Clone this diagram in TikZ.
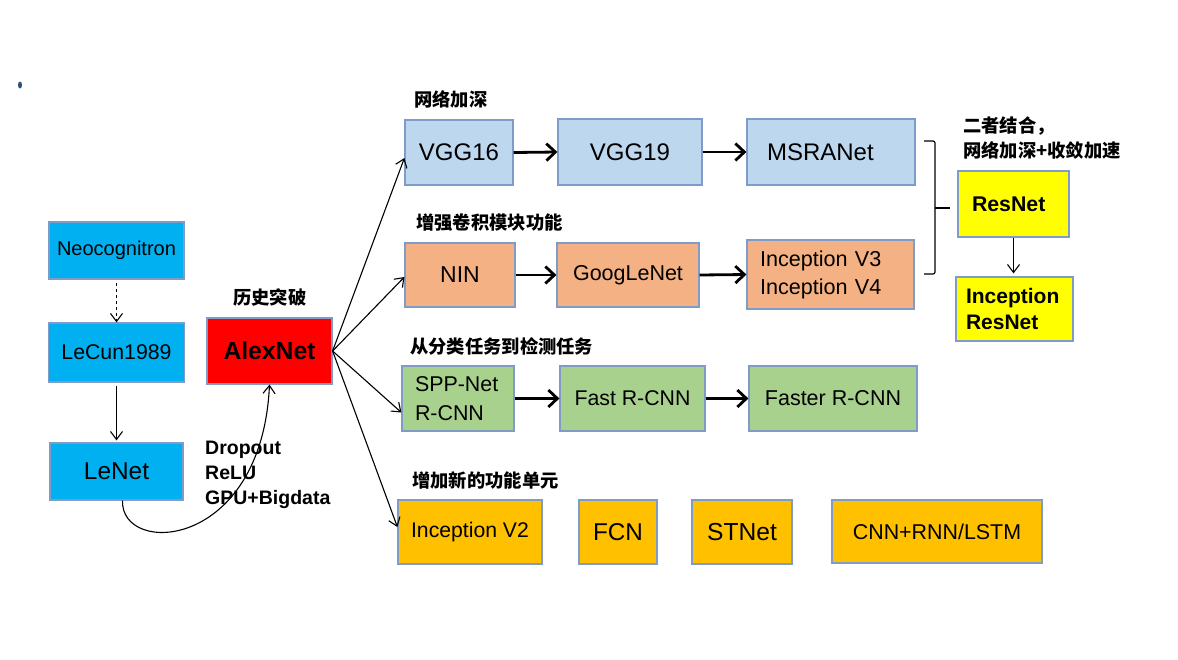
\documentclass[tikz,border=0pt]{standalone}
\usepackage{fontspec}
\setmainfont{Liberation Sans}
\newfontfamily\cjk{Noto Sans CJK SC}
\usepackage{xcolor}
\definecolor{NetCyan}{HTML}{00B0F0}
\definecolor{NetBlue}{HTML}{BDD7EE}
\definecolor{NetOrange}{HTML}{F4B183}
\definecolor{NetGreen}{HTML}{A9D18E}
\definecolor{NetGold}{HTML}{FFC000}
\definecolor{NetYellow}{HTML}{FFFF00}
\definecolor{NetRed}{HTML}{FF0000}
\definecolor{NetEdge}{HTML}{7F9CC8}
\definecolor{DotBlue}{HTML}{2F4F7F}
\usetikzlibrary{arrows.meta}
\tikzset{>=latex}
\tikzstyle{netbox}=[draw=NetEdge, line width=1.2, inner sep=0, align=center]
\tikzstyle{bigarrow}=[-{Straight Barb[length=9pt,width=17pt]}, line width=2.8]
\tikzstyle{thinarrow}=[-{Straight Barb[length=8pt,width=12pt]}, line width=1.1]
\tikzstyle{cntext}=[anchor=west, inner sep=0, font=\cjk\bfseries\fontsize{18.3}{25}\selectfont]

\begin{document}
\begin{tikzpicture}[x=1pt, y=-1pt]
		% Page
		\fill[white] (0,0) rectangle (1178,659);
		\fill[DotBlue] (20,85) ellipse [x radius=2, y radius=3.5];
		
		% Early networks
		\node[netbox, fill=NetCyan, minimum width=135, minimum height=57, font=\fontsize{20}{24}\selectfont] (neo) at (116.5,250.5) {Neocognitron};
		\node[netbox, fill=NetCyan, minimum width=136, minimum height=59, font=\fontsize{21.3}{26}\selectfont] (lecun) at (116.5,352.5) {LeCun1989};
		\node[netbox, fill=NetCyan, minimum width=133, minimum height=57, font=\fontsize{24.4}{28}\selectfont] (lenet) at (116.5,471.5) {LeNet};
		\node[netbox, fill=NetRed, minimum width=125, minimum height=66, font=\bfseries\fontsize{24.7}{28}\selectfont] (alex) at (269.5,351) {AlexNet};
		
		% Deeper
		\node[netbox, fill=NetBlue, minimum width=108, minimum height=65, font=\fontsize{24}{28}\selectfont] (vgg16) at (459,152.5) {VGG16};
		\node[netbox, fill=NetBlue, minimum width=144, minimum height=66, font=\fontsize{24}{28}\selectfont] (vgg19) at (630,152) {VGG19};
		\node[netbox, fill=NetBlue, minimum width=168, minimum height=66, text width=128, align=left, font=\fontsize{24}{28}\selectfont] (msra) at (831,152) {MSRANet};
		
		% Convolution modules
		\node[netbox, fill=NetOrange, minimum width=110, minimum height=64, font=\fontsize{23}{28}\selectfont] (nin) at (460,275) {NIN};
		\node[netbox, fill=NetOrange, minimum width=142, minimum height=64, font=\fontsize{21.5}{26}\selectfont] (goog) at (628,275) {GoogLeNet};
		\node[netbox, fill=NetOrange, minimum width=167, minimum height=69, text width=141, align=left, font=\fontsize{21.6}{28}\selectfont] (incv3) at (830.5,274.5) {Inception V3\\Inception V4};
		
		% Detection
		\node[netbox, fill=NetGreen, minimum width=112, minimum height=65, text width=86, align=left, font=\fontsize{21.4}{29}\selectfont] (spp) at (458,398.5) {SPP-Net\\R-CNN};
		\node[netbox, fill=NetGreen, minimum width=145, minimum height=65, font=\fontsize{21.3}{26}\selectfont] (fast) at (632.5,398.5) {Fast R-CNN};
		\node[netbox, fill=NetGreen, minimum width=168, minimum height=65, font=\fontsize{21.5}{26}\selectfont] (faster) at (833,398.5) {Faster R-CNN};
		
		% New units
		\node[netbox, fill=NetGold, minimum width=144, minimum height=64, font=\fontsize{21.2}{26}\selectfont] (incv2) at (470,532) {Inception V2};
		\node[netbox, fill=NetGold, minimum width=78, minimum height=64, font=\fontsize{24.3}{28}\selectfont] (fcn) at (618,532) {FCN};
		\node[netbox, fill=NetGold, minimum width=100, minimum height=64, font=\fontsize{24.6}{28}\selectfont] (stnet) at (742,532) {STNet};
		\node[netbox, fill=NetGold, minimum width=210, minimum height=63, font=\fontsize{21.4}{26}\selectfont] (cnnrnn) at (937,531.5) {CNN+RNN/LSTM};
		
		% Residual
		\node[netbox, fill=NetYellow, minimum width=111, minimum height=66, text width=83, align=left, font=\bfseries\fontsize{21.3}{26}\selectfont] (resnet) at (1013.5,204) {ResNet};
		\node[netbox, fill=NetYellow, minimum width=117, minimum height=64, text width=97, align=left, font=\bfseries\fontsize{21}{26}\selectfont] (incres) at (1014.5,309) {Inception\\ResNet};
		
		% Labels
		\node[cntext] (lbalex) at (233,298) {历史突破};
		\node[cntext] (lbdeep) at (414,99) {网络加深};
		\node[cntext] (lbconv) at (416,223) {增强卷积模块功能};
		\node[cntext] (lbdet) at (410,346) {从分类任务到检测任务};
		\node[cntext] (lbnew) at (412,480) {增加新的功能单元};
		\node[cntext, align=left] (lbres) at (963,138.5) {二者结合，\\网络加深+收敛加速};
		\node[anchor=west, align=left, inner sep=0, font=\bfseries\fontsize{19.5}{25}\selectfont] (tricks) at (205,475) {Dropout\\ReLU\\GPU+Bigdata};
		
		% Arrows
		\draw[thinarrow, dashed, shorten <=3] (neo.south) -- (lecun.north);
		\draw[thinarrow, shorten <=3, shorten >=2] (lecun.south) -- (lenet.north);
		\draw[thinarrow] ([xshift=6]lenet.south) .. controls +(-2,56) and +(-8,166) .. (alex.south);
		\draw[thinarrow] (alex.east) -- ([yshift=-5.5]vgg16.west);
		\draw[thinarrow] (alex.east) -- ([yshift=-2]nin.west);
		\draw[thinarrow] (alex.east) -- ([yshift=-14]spp.west);
		\draw[thinarrow] (alex.east) -- ([yshift=5]incv2.west);
		\draw[bigarrow] (vgg16.east) -- (vgg19.west);
		\draw[bigarrow] (vgg19.east) -- (msra.west);
		\draw[bigarrow] (nin.east) -- (goog.west);
		\draw[bigarrow] (goog.east) -- (incv3.west);
		\draw[bigarrow] (spp.east) -- (fast.west);
		\draw[bigarrow] (fast.east) -- (faster.west);
		\draw[thinarrow, shorten >=3] (resnet.south) -- (resnet.south |- incres.north);
		
		% Brace
		\draw[line width=1.2, rounded corners=2] (924,141) -- (935,141) -- (935,274) -- (924,274);
		\draw[line width=1.2] (935,208) -- (950,208);
	\end{tikzpicture}
\end{document}
